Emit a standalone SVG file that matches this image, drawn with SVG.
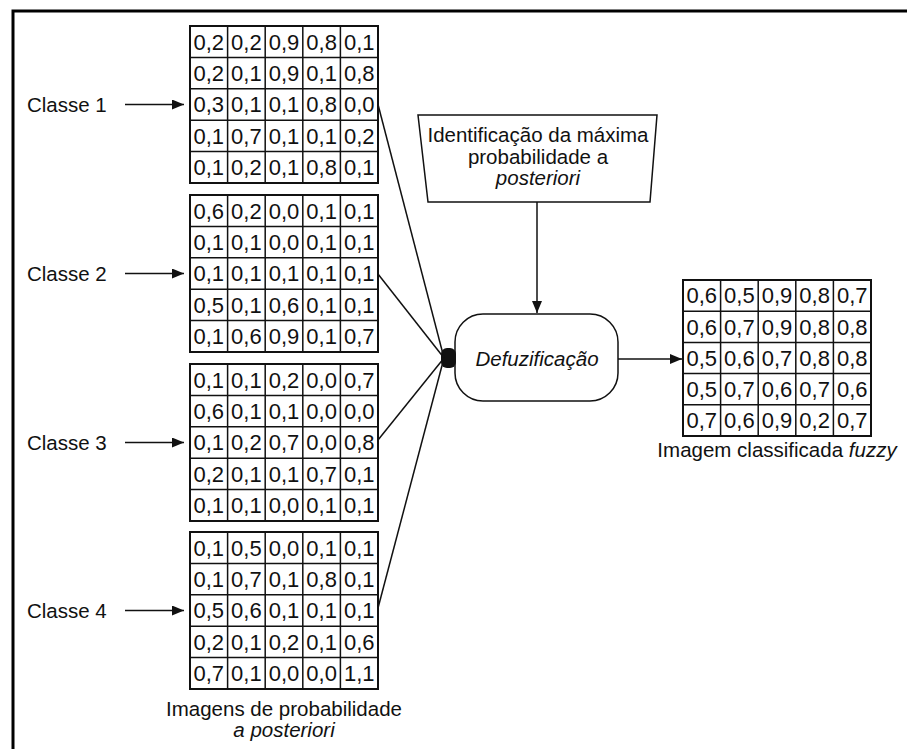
<svg xmlns="http://www.w3.org/2000/svg" width="907" height="749" viewBox="0 0 907 749">
<style>
text{font-family:"Liberation Sans",Arial,sans-serif;fill:#111}
.c{font-size:22px;text-anchor:middle}
.l{font-size:20.5px}
.m{font-size:20.5px;text-anchor:middle}
.grid rect{fill:#fff;stroke:#111;stroke-width:2}
.grid path{fill:none;stroke:#111;stroke-width:1.5}
.ln{stroke:#111;stroke-width:1.5;fill:none}
</style>
<defs>
<marker id="ah" viewBox="0 0 12 10" refX="12" refY="5" markerWidth="12" markerHeight="10" markerUnits="userSpaceOnUse" orient="auto">
<path d="M0,0 L12,5 L0,10 z" fill="#111"/>
</marker>
</defs>
<rect width="907" height="749" fill="#fff"/>
<g id="frame"><path d="M13,749 V11 H907" fill="none" stroke="#000" stroke-width="3"/></g>

<g id="grid1" class="grid">
<rect x="190" y="26" width="188" height="157"/>
<path d="M227.6,26V183M265.2,26V183M302.8,26V183M340.4,26V183M190,57.4H378M190,88.8H378M190,120.2H378M190,151.6H378"/>
<text class="c" x="208.8" y="49.5">0,2</text><text class="c" x="246.4" y="49.5">0,2</text><text class="c" x="284" y="49.5">0,9</text><text class="c" x="321.6" y="49.5">0,8</text><text class="c" x="359.2" y="49.5">0,1</text>
<text class="c" x="208.8" y="80.9">0,2</text><text class="c" x="246.4" y="80.9">0,1</text><text class="c" x="284" y="80.9">0,9</text><text class="c" x="321.6" y="80.9">0,1</text><text class="c" x="359.2" y="80.9">0,8</text>
<text class="c" x="208.8" y="112.3">0,3</text><text class="c" x="246.4" y="112.3">0,1</text><text class="c" x="284" y="112.3">0,1</text><text class="c" x="321.6" y="112.3">0,8</text><text class="c" x="359.2" y="112.3">0,0</text>
<text class="c" x="208.8" y="143.7">0,1</text><text class="c" x="246.4" y="143.7">0,7</text><text class="c" x="284" y="143.7">0,1</text><text class="c" x="321.6" y="143.7">0,1</text><text class="c" x="359.2" y="143.7">0,2</text>
<text class="c" x="208.8" y="175.1">0,1</text><text class="c" x="246.4" y="175.1">0,2</text><text class="c" x="284" y="175.1">0,1</text><text class="c" x="321.6" y="175.1">0,8</text><text class="c" x="359.2" y="175.1">0,1</text>
</g>

<g id="grid2" class="grid">
<rect x="190" y="195" width="188" height="157"/>
<path d="M227.6,195V352M265.2,195V352M302.8,195V352M340.4,195V352M190,226.4H378M190,257.8H378M190,289.2H378M190,320.6H378"/>
<text class="c" x="208.8" y="218.5">0,6</text><text class="c" x="246.4" y="218.5">0,2</text><text class="c" x="284" y="218.5">0,0</text><text class="c" x="321.6" y="218.5">0,1</text><text class="c" x="359.2" y="218.5">0,1</text>
<text class="c" x="208.8" y="249.9">0,1</text><text class="c" x="246.4" y="249.9">0,1</text><text class="c" x="284" y="249.9">0,0</text><text class="c" x="321.6" y="249.9">0,1</text><text class="c" x="359.2" y="249.9">0,1</text>
<text class="c" x="208.8" y="281.3">0,1</text><text class="c" x="246.4" y="281.3">0,1</text><text class="c" x="284" y="281.3">0,1</text><text class="c" x="321.6" y="281.3">0,1</text><text class="c" x="359.2" y="281.3">0,1</text>
<text class="c" x="208.8" y="312.7">0,5</text><text class="c" x="246.4" y="312.7">0,1</text><text class="c" x="284" y="312.7">0,6</text><text class="c" x="321.6" y="312.7">0,1</text><text class="c" x="359.2" y="312.7">0,1</text>
<text class="c" x="208.8" y="344.1">0,1</text><text class="c" x="246.4" y="344.1">0,6</text><text class="c" x="284" y="344.1">0,9</text><text class="c" x="321.6" y="344.1">0,1</text><text class="c" x="359.2" y="344.1">0,7</text>
</g>

<g id="grid3" class="grid">
<rect x="190" y="364" width="188" height="157"/>
<path d="M227.6,364V521M265.2,364V521M302.8,364V521M340.4,364V521M190,395.4H378M190,426.8H378M190,458.2H378M190,489.6H378"/>
<text class="c" x="208.8" y="387.5">0,1</text><text class="c" x="246.4" y="387.5">0,1</text><text class="c" x="284" y="387.5">0,2</text><text class="c" x="321.6" y="387.5">0,0</text><text class="c" x="359.2" y="387.5">0,7</text>
<text class="c" x="208.8" y="418.9">0,6</text><text class="c" x="246.4" y="418.9">0,1</text><text class="c" x="284" y="418.9">0,1</text><text class="c" x="321.6" y="418.9">0,0</text><text class="c" x="359.2" y="418.9">0,0</text>
<text class="c" x="208.8" y="450.3">0,1</text><text class="c" x="246.4" y="450.3">0,2</text><text class="c" x="284" y="450.3">0,7</text><text class="c" x="321.6" y="450.3">0,0</text><text class="c" x="359.2" y="450.3">0,8</text>
<text class="c" x="208.8" y="481.7">0,2</text><text class="c" x="246.4" y="481.7">0,1</text><text class="c" x="284" y="481.7">0,1</text><text class="c" x="321.6" y="481.7">0,7</text><text class="c" x="359.2" y="481.7">0,1</text>
<text class="c" x="208.8" y="513.1">0,1</text><text class="c" x="246.4" y="513.1">0,1</text><text class="c" x="284" y="513.1">0,0</text><text class="c" x="321.6" y="513.1">0,1</text><text class="c" x="359.2" y="513.1">0,1</text>
</g>

<g id="grid4" class="grid">
<rect x="190" y="532" width="188" height="157"/>
<path d="M227.6,532V689M265.2,532V689M302.8,532V689M340.4,532V689M190,563.4H378M190,594.8H378M190,626.2H378M190,657.6H378"/>
<text class="c" x="208.8" y="555.5">0,1</text><text class="c" x="246.4" y="555.5">0,5</text><text class="c" x="284" y="555.5">0,0</text><text class="c" x="321.6" y="555.5">0,1</text><text class="c" x="359.2" y="555.5">0,1</text>
<text class="c" x="208.8" y="586.9">0,1</text><text class="c" x="246.4" y="586.9">0,7</text><text class="c" x="284" y="586.9">0,1</text><text class="c" x="321.6" y="586.9">0,8</text><text class="c" x="359.2" y="586.9">0,1</text>
<text class="c" x="208.8" y="618.3">0,5</text><text class="c" x="246.4" y="618.3">0,6</text><text class="c" x="284" y="618.3">0,1</text><text class="c" x="321.6" y="618.3">0,1</text><text class="c" x="359.2" y="618.3">0,1</text>
<text class="c" x="208.8" y="649.7">0,2</text><text class="c" x="246.4" y="649.7">0,1</text><text class="c" x="284" y="649.7">0,2</text><text class="c" x="321.6" y="649.7">0,1</text><text class="c" x="359.2" y="649.7">0,6</text>
<text class="c" x="208.8" y="681.1">0,7</text><text class="c" x="246.4" y="681.1">0,1</text><text class="c" x="284" y="681.1">0,0</text><text class="c" x="321.6" y="681.1">0,0</text><text class="c" x="359.2" y="681.1">1,1</text>
</g>

<g id="output" class="grid">
<rect x="683" y="280" width="188" height="156"/>
<path d="M720.6,280V436M758.2,280V436M795.8,280V436M833.4,280V436M683,311.2H871M683,342.4H871M683,373.6H871M683,404.8H871"/>
<text class="c" x="701.8" y="303.4">0,6</text><text class="c" x="739.4" y="303.4">0,5</text><text class="c" x="777" y="303.4">0,9</text><text class="c" x="814.6" y="303.4">0,8</text><text class="c" x="852.2" y="303.4">0,7</text>
<text class="c" x="701.8" y="334.6">0,6</text><text class="c" x="739.4" y="334.6">0,7</text><text class="c" x="777" y="334.6">0,9</text><text class="c" x="814.6" y="334.6">0,8</text><text class="c" x="852.2" y="334.6">0,8</text>
<text class="c" x="701.8" y="365.8">0,5</text><text class="c" x="739.4" y="365.8">0,6</text><text class="c" x="777" y="365.8">0,7</text><text class="c" x="814.6" y="365.8">0,8</text><text class="c" x="852.2" y="365.8">0,8</text>
<text class="c" x="701.8" y="397">0,5</text><text class="c" x="739.4" y="397">0,7</text><text class="c" x="777" y="397">0,6</text><text class="c" x="814.6" y="397">0,7</text><text class="c" x="852.2" y="397">0,6</text>
<text class="c" x="701.8" y="428.2">0,7</text><text class="c" x="739.4" y="428.2">0,6</text><text class="c" x="777" y="428.2">0,9</text><text class="c" x="814.6" y="428.2">0,2</text><text class="c" x="852.2" y="428.2">0,7</text>
</g>

<g id="labels">
<text class="l" x="27" y="112">Classe 1</text>
<text class="l" x="27" y="281">Classe 2</text>
<text class="l" x="27" y="450">Classe 3</text>
<text class="l" x="27" y="618">Classe 4</text>
<text class="m" x="284" y="716">Imagens de probabilidade</text>
<text class="m" x="284" y="737" font-style="italic">a posteriori</text>
<text class="m" x="777" y="457">Imagem classificada <tspan font-style="italic">fuzzy</tspan></text>
</g>

<g id="identificacao">
<polygon points="418,115 657,115 650,202 428,202" fill="#fff" stroke="#111" stroke-width="1.5"/>
<text class="m" x="538" y="142">Identificação da máxima</text>
<text class="m" x="538" y="164">probabilidade a</text>
<text class="m" x="538" y="185" font-style="italic">posteriori</text>
</g>

<g id="defuzificacao">
<rect x="455" y="314" width="163" height="87" rx="28" ry="28" fill="#fff" stroke="#111" stroke-width="1.5"/>
<text class="m" x="537" y="366" font-style="italic">Defuzificação</text>
</g>

<g id="junction">
<rect x="441" y="348" width="15" height="20" rx="6" ry="6" fill="#111"/>
</g>

<g id="connectors">
<line class="ln" x1="125" y1="104.5" x2="184" y2="104.5" marker-end="url(#ah)"/>
<line class="ln" x1="125" y1="273.5" x2="184" y2="273.5" marker-end="url(#ah)"/>
<line class="ln" x1="125" y1="442.5" x2="184" y2="442.5" marker-end="url(#ah)"/>
<line class="ln" x1="125" y1="610.5" x2="184" y2="610.5" marker-end="url(#ah)"/>
<line class="ln" x1="378" y1="104.5" x2="444" y2="358"/>
<line class="ln" x1="378" y1="274" x2="444" y2="358"/>
<line class="ln" x1="378" y1="440" x2="444" y2="358"/>
<line class="ln" x1="378" y1="608" x2="444" y2="358"/>
<line class="ln" x1="537" y1="202" x2="537" y2="313" marker-end="url(#ah)"/>
<line class="ln" x1="618" y1="359" x2="682" y2="359" marker-end="url(#ah)"/>
</g>
</svg>
